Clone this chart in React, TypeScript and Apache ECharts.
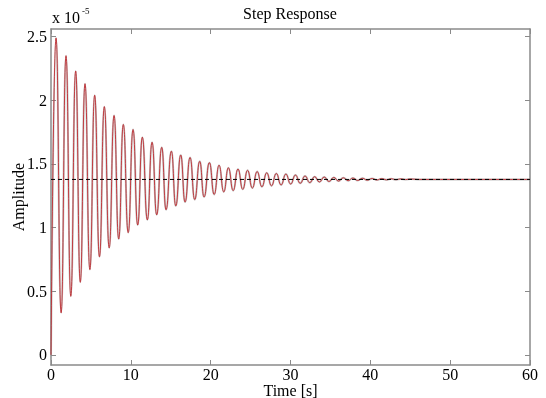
import React, { useEffect, useRef } from "react";
import * as echarts from "echarts";

// Values are in units of 1e-5
const peakTimes = [0.63, 1.88, 3.09, 4.26, 5.47, 6.68, 7.9, 9.06, 10.28, 11.44, 12.66, 13.87, 15.08, 16.25, 17.42, 18.63, 19.84, 21.05, 22.22, 23.42, 24.62, 25.82, 27.02, 28.22, 29.42, 30.62, 31.82, 33.02, 34.22, 35.42, 36.62, 37.82, 39.02, 40.22, 41.42, 42.62, 43.82, 45.02];
const peakValues = [2.49, 2.35, 2.23, 2.13, 2.04, 1.95, 1.88, 1.81, 1.77, 1.71, 1.67, 1.63, 1.6, 1.57, 1.55, 1.52, 1.51, 1.49, 1.47, 1.46, 1.45, 1.44, 1.43, 1.425, 1.42, 1.412, 1.405, 1.4, 1.397, 1.394, 1.391, 1.389, 1.387, 1.385, 1.384, 1.383, 1.382, 1.381];
const troughTimes = [1.27, 2.48, 3.67, 4.87, 6.07, 7.29, 8.48, 9.67, 10.86, 12.07, 13.24, 14.41, 15.63, 16.79, 18.0, 19.17, 20.44, 21.64, 22.82, 24.02, 25.22, 26.42, 27.62, 28.82, 30.02, 31.22, 32.42, 33.62, 34.82, 36.02, 37.22, 38.42, 39.62, 40.82, 42.02, 43.22, 44.42];
const troughValues = [0.33, 0.46, 0.57, 0.67, 0.77, 0.84, 0.91, 0.96, 1.02, 1.06, 1.1, 1.14, 1.17, 1.2, 1.22, 1.24, 1.26, 1.28, 1.29, 1.3, 1.31, 1.32, 1.328, 1.335, 1.342, 1.348, 1.353, 1.358, 1.362, 1.365, 1.368, 1.37, 1.372, 1.374, 1.375, 1.376, 1.377];
const startPoint = [0, 0];
const settleTimes = [46.2, 60];
const steadyValue = 1.378;
const xTicks = [0, 10, 20, 30, 40, 50, 60];
const yTicks = [0, 0.5, 1, 1.5, 2, 2.5];

const FONT = "Liberation Serif";
const AXIS_COLOR = "#8a8a8a";

export default function App() {
  const ref = useRef<HTMLDivElement>(null);

  useEffect(() => {
    if (!ref.current) return;
    const chart = echarts.init(ref.current, undefined, { renderer: "svg" });

    const pts: number[][] = [startPoint];
    peakTimes.forEach((t, i) => pts.push([t, peakValues[i]]));
    troughTimes.forEach((t, i) => pts.push([t, troughValues[i]]));
    settleTimes.forEach((t) => pts.push([t, steadyValue]));
    pts.sort((a, b) => a[0] - b[0]);

    const tickCommon = { show: true, inside: true, length: 5, lineStyle: { color: AXIS_COLOR, width: 1 } };
    const lineCommon = { show: true, onZero: false, lineStyle: { color: AXIS_COLOR, width: 1.5 } };

    chart.setOption({
      animation: false,
      grid: { left: 51, right: 16, top: 29, bottom: 33, containLabel: false, outerBoundsMode: "none" },
      xAxis: [
        {
          type: "value",
          min: 0,
          max: 60,
          interval: 10,
          position: "bottom",
          axisLine: lineCommon,
          axisTick: tickCommon,
          splitLine: { show: false },
          axisLabel: { color: "#000", fontFamily: FONT, fontSize: 16, margin: 2, lineHeight: 15 },
          name: "Time [s]",
          nameLocation: "middle",
          nameGap: 17,
          nameMoveOverlap: false,
          nameTextStyle: { color: "#000", fontFamily: FONT, fontSize: 16, lineHeight: 16 },
        },
        {
          type: "value",
          min: 0,
          max: 60,
          interval: 10,
          position: "top",
          axisLine: lineCommon,
          axisTick: tickCommon,
          splitLine: { show: false },
          axisLabel: { show: false },
        },
      ],
      yAxis: [
        {
          type: "value",
          min: -0.08,
          max: 2.56,
          position: "left",
          axisLine: lineCommon,
          axisTick: { ...tickCommon, customValues: yTicks },
          splitLine: { show: false },
          axisLabel: {
            customValues: yTicks,
            color: "#000",
            fontFamily: FONT,
            fontSize: 16,
            margin: 4,
            formatter: (v: number) => String(v),
          },
          name: "Amplitude",
          nameLocation: "middle",
          nameGap: 25,
          nameMoveOverlap: false,
          nameTextStyle: { color: "#000", fontFamily: FONT, fontSize: 16 },
        },
        {
          type: "value",
          min: -0.08,
          max: 2.56,
          position: "right",
          axisLine: lineCommon,
          axisTick: { ...tickCommon, customValues: yTicks },
          splitLine: { show: false },
          axisLabel: { show: false },
        },
      ],
      graphic: [
        {
          type: "text",
          x: 290,
          y: 5,
          style: { text: "Step Response", fontFamily: FONT, fontSize: 16, fill: "#000", textAlign: "center" },
        },
        {
          type: "text",
          x: 52,
          y: 9,
          style: { text: "x 10", fontFamily: FONT, fontSize: 16, fill: "#000" },
        },
        {
          type: "text",
          x: 82,
          y: 6,
          style: { text: "-5", fontFamily: FONT, fontSize: 9, fill: "#000" },
        },
      ],
      series: [
        {
          type: "line",
          data: pts,
          smooth: 0.5,
          smoothMonotone: "x",
          showSymbol: false,
          lineStyle: { color: "#9a9a9a", width: 2, opacity: 0.6 },
          z: 1,
        },
        {
          type: "line",
          data: pts,
          smooth: 0.5,
          smoothMonotone: "x",
          showSymbol: false,
          lineStyle: { color: "#c0262c", width: 1, opacity: 0.85 },
          z: 2,
        },
        {
          type: "line",
          data: [
            [xTicks[0], steadyValue],
            [xTicks[xTicks.length - 1], steadyValue],
          ],
          showSymbol: false,
          lineStyle: { color: "#000", width: 1, type: [4, 3] },
          z: 3,
        },
      ],
    });

    return () => chart.dispose();
  }, []);

  return <div ref={ref} style={{ position: "fixed", left: 0, top: 0, width: 546, height: 398 }} />;
}
